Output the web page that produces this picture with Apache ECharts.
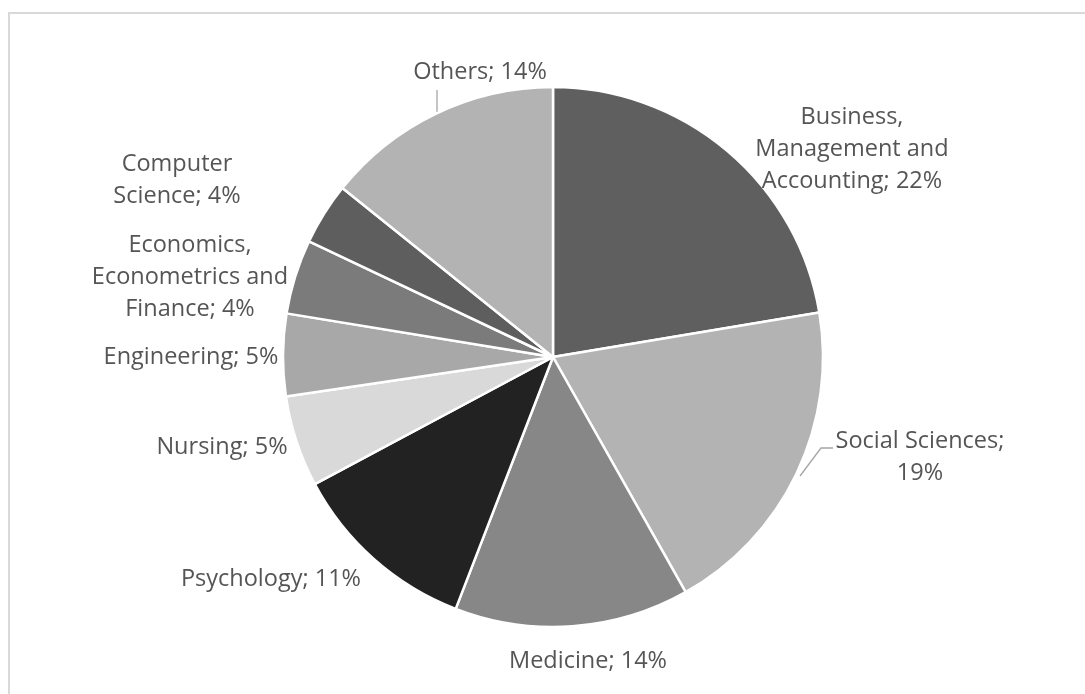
<!DOCTYPE html>
<html>
<head>
<meta charset="utf-8">
<script src="https://cdn.jsdelivr.net/npm/echarts@6/dist/echarts.min.js"></script>
<style>
html,body{margin:0;padding:0;background:#fff;}
#chart{width:1085px;height:694px;}
</style>
</head>
<body>
<div id="chart"></div>
<script>
// Data
var categories = [
  "Business,\nManagement and\nAccounting",
  "Social Sciences;\n",
  "Medicine",
  "Psychology",
  "Nursing",
  "Engineering",
  "Economics,\nEconometrics and\nFinance",
  "Computer\nScience",
  "Others"
];
var shares = [22.3, 19.4, 14.0, 11.3, 5.45, 4.9, 4.45, 3.7, 14.2];
var sliceColors = ["#5f5f5f", "#b3b3b3", "#878787", "#222222", "#d9d9d9", "#a8a8a8", "#7b7b7b", "#5e5e5e", "#b3b3b3"];

// Label layout (text centres, px)
var labelPos = [
  [852, 149], [920, 457], [588, 661], [271, 579], [222, 447],
  [191, 357], [190, 277], [177, 180], [480, 72]
];
var leaderLines = {
  1: [[800, 476], [821, 448], [833, 448]],
  8: [[437, 112], [437, 96], [437, 90]]
};

var data = categories.map(function (c, i) {
  return {
    name: c,
    value: shares[i],
    itemStyle: { color: sliceColors[i] },
    labelLine: { show: leaderLines[i] !== undefined }
  };
});

var chart = echarts.init(document.getElementById('chart'), null, { renderer: 'canvas' });
chart.setOption({
  animation: false,
  backgroundColor: '#ffffff',
  graphic: [{
    type: 'rect',
    shape: { x: 9, y: 13, width: 1200, height: 800 },
    style: { fill: 'none', stroke: '#d9d9d9', lineWidth: 2 },
    silent: true
  }],
  series: [{
    type: 'pie',
    center: [553, 357],
    radius: 270,
    startAngle: 90,
    clockwise: true,
    data: data,
    itemStyle: { borderColor: '#ffffff', borderWidth: 2.5 },
    label: {
      show: true,
      position: 'outside',
      fontFamily: 'Open Sans',
      fontSize: 23.5,
      lineHeight: 32,
      color: '#555555',
      align: 'center',
      formatter: function (p) {
        var n = p.name;
        var v = Math.round(p.value) + '%';
        if (n.charAt(n.length - 1) === '\n') return n + v;
        return n + '; ' + v;
      }
    },
    labelLine: {
      show: false,
      lineStyle: { color: '#a6a6a6', width: 1.3 }
    },
    labelLayout: function (params) {
      var i = params.dataIndex;
      var out = {
        x: labelPos[i][0],
        y: labelPos[i][1],
        align: 'center',
        verticalAlign: 'middle'
      };
      if (leaderLines[i]) out.labelLinePoints = leaderLines[i];
      return out;
    }
  }]
});
</script>
</body>
</html>
